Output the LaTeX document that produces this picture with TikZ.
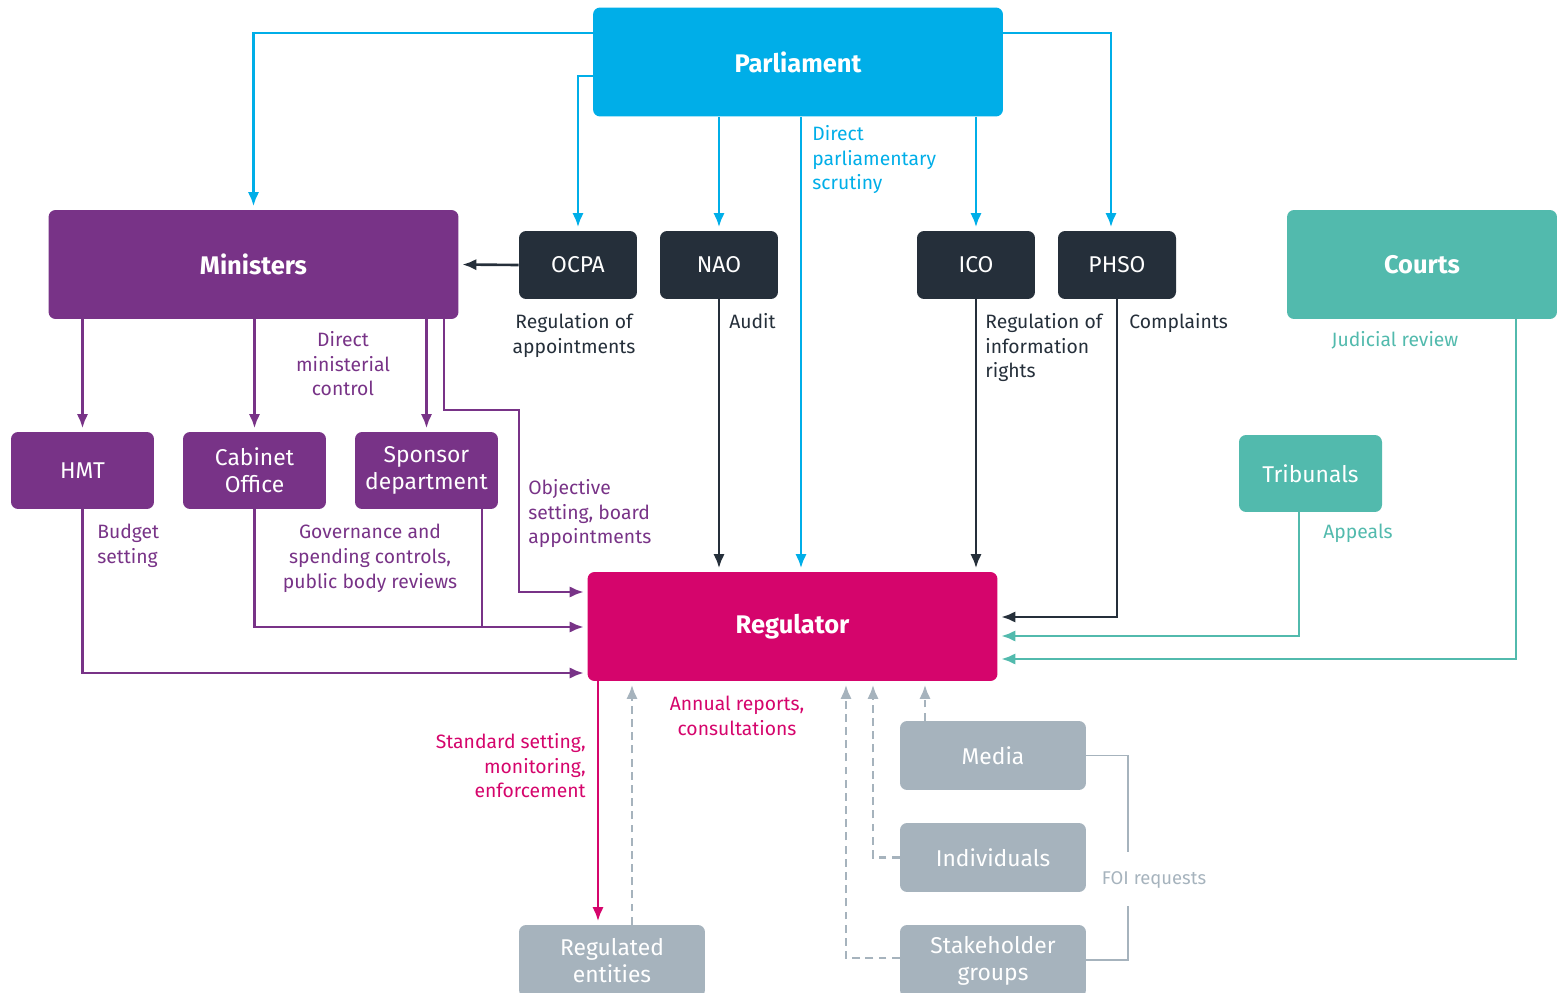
\documentclass[tikz,border=0pt]{standalone}
\usepackage{fontspec}
\setmainfont{Fira Sans}
\usetikzlibrary{arrows.meta,positioning}

\definecolor{parlblue}{HTML}{00AEE8}
\definecolor{minpurple}{HTML}{783387}
\definecolor{bodydark}{HTML}{252F3A}
\definecolor{courtteal}{HTML}{52BAAD}
\definecolor{regmagenta}{HTML}{D5056C}
\definecolor{publicgrey}{HTML}{A6B3BD}

\begin{document}
\begin{tikzpicture}[x=0.02cm, y=-0.02cm,
    box/.style={rectangle, rounded corners=4pt, text=white, align=center, inner sep=0pt, font=\fontsize{13}{15.4}\selectfont},
    bigbox/.style={box, minimum width=8.2cm, minimum height=2.18cm, font=\fontsize{14.5}{17}\selectfont\bfseries},
    bodybox/.style={box, fill=bodydark, minimum width=2.36cm, minimum height=1.36cm},
    deptbox/.style={box, minimum width=2.86cm, minimum height=1.54cm},
    pubbox/.style={box, fill=publicgrey, minimum width=3.72cm, minimum height=1.38cm},
    lbl/.style={inner sep=0pt, font=\fontsize{11}{14}\selectfont},
    link/.style={line width=1.5pt, -{Latex[length=8pt,width=6.5pt]}, shorten >=2pt},
    feedback/.style={link, publicgrey, dash pattern=on 4.5pt off 3pt}
]
\useasboundingbox (0,0) rectangle (1559,993);

% boxes
\node[bigbox, fill=parlblue] (parl) at (798,62) {Parliament};
\node[bigbox, fill=minpurple] (min) at (253.5,264.5) {Ministers};
\node[bodybox] (ocpa) at (578,265) {OCPA};
\node[bodybox] (nao) at (719,265) {NAO};
\node[bodybox] (ico) at (976,265) {ICO};
\node[bodybox] (phso) at (1117,265) {PHSO};
\node[bigbox, fill=courtteal, minimum width=5.4cm] (courts) at (1422,264.5) {Courts};
\node[deptbox, fill=minpurple] (hmt) at (82.5,470.5) {HMT};
\node[deptbox, fill=minpurple] (cab) at (254.5,470.5) {Cabinet\\Office};
\node[deptbox, fill=minpurple] (spon) at (426.5,470.5) {Sponsor\\department};
\node[deptbox, fill=courtteal] (trib) at (1310.5,473.5) {Tribunals};
\node[bigbox, fill=regmagenta] (reg) at (792.5,626.5) {Regulator};
\node[pubbox] (media) at (993,755.5) {Media};
\node[pubbox] (indiv) at (993,857.5) {Individuals};
\node[pubbox, minimum height=1.44cm] (stake) at (993,961) {Stakeholder\\groups};
\node[pubbox, minimum height=1.44cm] (regent) at (612,961) {Regulated\\entities};

% Parliament
\draw[link, parlblue] (parl.west |- 0,33) -| (min.north);
\draw[link, parlblue] (parl.west |- 0,76) -| (ocpa.north);
\draw[link, parlblue] (parl.south -| nao.north) -- (nao.north);
\draw[link, parlblue] (parl.south -| 801,0) -- (reg.north -| 801,0);
\draw[link, parlblue] (parl.south -| ico.north) -- (ico.north);
\draw[link, parlblue] (parl.east |- 0,33) -| ([xshift=-0.12cm]phso.north);
\node[lbl, parlblue, anchor=north west, align=left] (lscrut) at (812,125) {Direct\\parliamentary\\scrutiny};

% independent bodies
\draw[link, bodydark] (ocpa.west) -- (min.east);
\draw[link, bodydark] (nao.south) -- (nao.south |- reg.north);
\draw[link, bodydark] (ico.south) -- (ico.south |- reg.north);
\draw[link, bodydark] (phso.south) |- (reg.east |- 0,617);
\node[lbl, bodydark, anchor=north, align=center] (lappt) at (574,313) {Regulation of\\appointments};
\node[lbl, bodydark, anchor=north west] (laudit) at (729,313) {Audit};
\node[lbl, bodydark, anchor=north west, align=left] (linfo) at (985,313) {Regulation of\\information\\rights};
\node[lbl, bodydark, anchor=north west] (lcompl) at (1129,313) {Complaints};

% courts and tribunals
\draw[link, courtteal] (trib.south -| 1299,0) |- (reg.east |- 0,636);
\draw[link, courtteal] (courts.south -| 1516,0) |- (reg.east |- 0,659);
\node[lbl, courtteal, anchor=north] (ljudic) at (1395,331) {Judicial review};
\node[lbl, courtteal, anchor=north] (lappeal) at (1358,524) {Appeals};

% ministers
\draw[link, minpurple] (min.south -| hmt.north) -- (hmt.north);
\draw[link, minpurple] (min.south -| cab.north) -- (cab.north);
\draw[link, minpurple] (min.south -| spon.north) -- (spon.north);
\draw[link, minpurple] (min.south -| 444,0) |- (519,410) |- (reg.west |- 0,592);
\draw[link, minpurple] (hmt.south) |- (reg.west |- 0,673);
\draw[link, minpurple] (cab.south) |- (reg.west |- 0,627);
\draw[line width=1.5pt, minpurple] (spon.south -| 482,0) -- (482,627);
\node[lbl, minpurple, anchor=north, align=center] (lcontrol) at (343,331) {Direct\\ministerial\\control};
\node[lbl, minpurple, anchor=north west, align=left] (lobject) at (528,479) {Objective\\setting, board\\appointments};
\node[lbl, minpurple, anchor=north west, align=left] (lbudget) at (97,524) {Budget\\setting};
\node[lbl, minpurple, anchor=north, align=center] (lgovern) at (370,524) {Governance and\\spending controls,\\public body reviews};

% regulator and the public
\draw[link, regmagenta] (reg.south -| 598,0) -- (regent.north -| 598,0);
\draw[feedback] (regent.north -| 632,0) -- (reg.south -| 632,0);
\draw[feedback] (media.north -| 925,0) -- (reg.south -| 925,0);
\draw[feedback] (indiv.west) -| (reg.south -| 873,0);
\draw[feedback] (stake.west |- 0,958) -| (reg.south -| 846,0);
\node[lbl, regmagenta, anchor=north east, align=right] (lstand) at (586,733) {Standard setting,\\monitoring,\\enforcement};
\node[lbl, regmagenta, anchor=north, align=center] (lannual) at (737,696) {Annual reports,\\consultations};

% FOI bracket
\node[lbl, publicgrey, font=\fontsize{10.5}{13}\selectfont] (lfoi) at (1154,880) {FOI requests};
\draw[publicgrey, line width=0.6pt] (media.east) -| (1128,852);
\draw[publicgrey, line width=0.6pt] (1128,906) |- (stake.east |- 0,960);
\end{tikzpicture}
\end{document}
